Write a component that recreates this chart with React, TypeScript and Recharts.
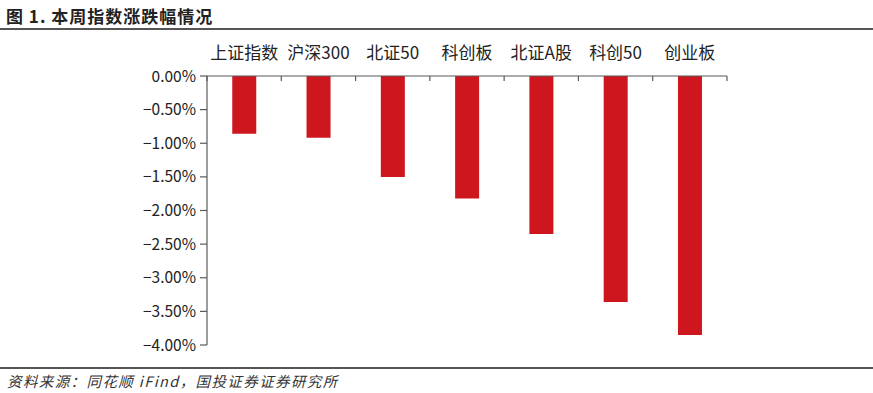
import { BarChart, Bar, XAxis, YAxis } from 'recharts';

const categories = ['上证指数', '沪深300', '北证50', '科创板', '北证A股', '科创50', '创业板'];
const weeklyChange = [-0.86, -0.92, -1.5, -1.82, -2.35, -3.36, -3.85];
const yTicks = [0, -0.5, -1, -1.5, -2, -2.5, -3, -3.5, -4];

const data = categories.map((name, i) => ({ name, value: weeklyChange[i] }));

const W = 873;
const H = 393;
const PLOT_LEFT = 207;
const PLOT_RIGHT = 727;
const PLOT_TOP = 76;
const PLOT_BOTTOM = 345;
const BAND = (PLOT_RIGHT - PLOT_LEFT) / categories.length;
const FONT = '"Noto Sans CJK SC", "Noto Sans", sans-serif';
const AXIS_COLOR = '#595959';

function CategoryTick(props: any) {
  const { x, payload, index } = props;
  const left = x - BAND / 2;
  return (
    <g>
      <line x1={left} y1={PLOT_TOP} x2={left} y2={PLOT_TOP + 5} stroke={AXIS_COLOR} strokeWidth={1.2} />
      {index === categories.length - 1 && (
        <line x1={x + BAND / 2} y1={PLOT_TOP} x2={x + BAND / 2} y2={PLOT_TOP + 5} stroke={AXIS_COLOR} strokeWidth={1.2} />
      )}
      <text x={x} y={PLOT_TOP - 17} textAnchor="middle" fontSize={17} fill="#222" fontFamily={FONT}>
        {payload.value}
      </text>
    </g>
  );
}

const fmt = (v: number) => (v < 0 ? '−' : '') + Math.abs(v).toFixed(2) + '%';

export default function App() {
  return (
    <div style={{ position: 'absolute', left: 0, top: 0, width: W, height: H, background: '#fff', fontFamily: FONT }}>
      <div style={{ position: 'absolute', left: 6, top: 3, fontSize: 17, fontWeight: 700, color: '#222', letterSpacing: 1 }}>
        图 1. 本周指数涨跌幅情况
      </div>
      <div style={{ position: 'absolute', left: 0, top: 28, width: W, height: 2, background: '#555' }} />
      <div style={{ position: 'absolute', left: 0, top: 367, width: W, height: 1.5, background: '#555' }} />
      <div style={{ position: 'absolute', left: 7, top: 370, fontSize: 14.5, fontStyle: 'italic', color: '#333', letterSpacing: 1.4 }}>
        资料来源：同花顺 iFind，国投证券证券研究所
      </div>
      <div style={{ position: 'absolute', left: 0, top: 0 }}>
        <BarChart
          width={W}
          height={H}
          data={data}
          margin={{ top: 30, right: W - PLOT_RIGHT, left: 0, bottom: H - PLOT_BOTTOM }}
          barCategoryGap="34%"
        >
          <XAxis
            dataKey="name"
            orientation="top"
            height={PLOT_TOP - 30}
            axisLine={{ stroke: AXIS_COLOR, strokeWidth: 1.2 }}
            tickLine={false}
            tick={<CategoryTick />}
            interval={0}
          />
          <YAxis
            type="number"
            domain={[-4, 0]}
            ticks={yTicks}
            width={PLOT_LEFT}
            axisLine={{ stroke: AXIS_COLOR, strokeWidth: 1.2 }}
            tickLine={{ stroke: AXIS_COLOR, strokeWidth: 1.2 }}
            tickSize={7}
            tickMargin={4}
            tickFormatter={fmt}
            tick={{ fontSize: 15.5, fill: '#222', fontFamily: FONT }}
            interval={0}
          />
          <Bar dataKey="value" fill="#CD161E" isAnimationActive={false} />
        </BarChart>
      </div>
    </div>
  );
}
